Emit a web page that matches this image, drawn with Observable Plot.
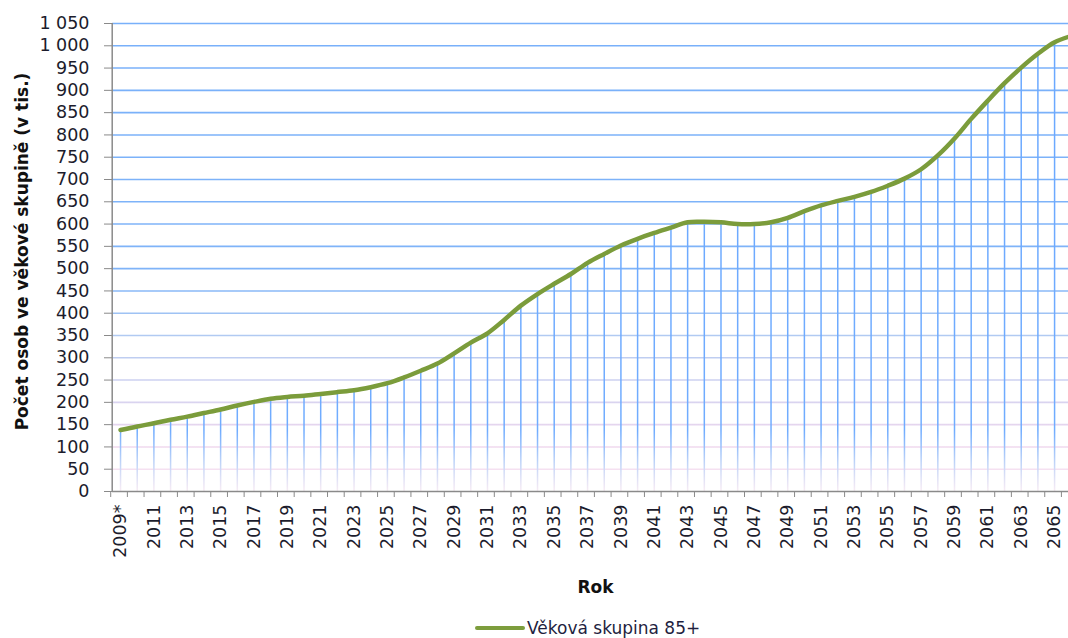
<!DOCTYPE html>
<html>
<head>
<meta charset="utf-8">
<script src="https://cdn.jsdelivr.net/npm/d3@7"></script>
<script src="https://cdn.jsdelivr.net/npm/@observablehq/plot@0.6"></script>
<style>
  html, body { margin: 0; padding: 0; background: white; overflow: hidden; width: 1068px; height: 638px; }
  #legend { position: relative; height: 38px; font-family: "DejaVu Sans", sans-serif; font-size: 17px; color: #1f1f3f; }
  #legend .sw { position: absolute; left: 475px; top: 26px; width: 50px; height: 4px; background: #7d9d3d; border-radius: 2px; }
  #legend .lb { position: absolute; left: 527px; top: 17px; line-height: 22px; white-space: nowrap; }
</style>
</head>
<body>
<div id="chart"></div>
<div id="legend"><span class="sw"></span><span class="lb">Věková skupina 85+</span></div>
<script>
// ---- data ----
const years = [2009, 2010, 2011, 2012, 2013, 2014, 2015, 2016, 2017, 2018,
  2019, 2020, 2021, 2022, 2023, 2024, 2025, 2026, 2027, 2028,
  2029, 2030, 2031, 2032, 2033, 2034, 2035, 2036, 2037, 2038,
  2039, 2040, 2041, 2042, 2043, 2044, 2045, 2046, 2047, 2048,
  2049, 2050, 2051, 2052, 2053, 2054, 2055, 2056, 2057, 2058,
  2059, 2060, 2061, 2062, 2063, 2064, 2065, 2066];
const values = [138, 146, 153, 161, 168, 176, 184, 193, 201, 208,
  212, 215, 219, 223, 227, 234, 243, 256, 271, 287,
  310, 334, 355, 385, 417, 443, 466, 488, 513, 533,
  552, 567, 580, 592, 604, 605, 604, 600, 600, 604,
  614, 629, 642, 652, 661, 672, 686, 702, 723, 754,
  792, 836, 877, 916, 951, 982, 1008, 1022];
const labelYears = [2009, 2011, 2013, 2015, 2017, 2019, 2021, 2023, 2025, 2027,
  2029, 2031, 2033, 2035, 2037, 2039, 2041, 2043, 2045, 2047,
  2049, 2051, 2053, 2055, 2057, 2059, 2061, 2063, 2065];
const labelText = ["2009*", "2011", "2013", "2015", "2017", "2019", "2021", "2023", "2025", "2027",
  "2029", "2031", "2033", "2035", "2037", "2039", "2041", "2043", "2045", "2047",
  "2049", "2051", "2053", "2055", "2057", "2059", "2061", "2063", "2065"];
const yTicks = [0, 50, 100, 150, 200, 250, 300, 350, 400, 450, 500, 550,
  600, 650, 700, 750, 800, 850, 900, 950, 1000, 1050];
const yTitle = "Počet osob ve věkové skupině (v tis.)";
const xTitle = "Rok";

const data = years.map((year, i) => ({year, value: values[i]}));
const boundaries = years.map(y => y - 0.5);
const labelMap = new Map(labelYears.map((y, i) => [y, labelText[i]]));
const fmtY = d => d >= 1000 ? `${Math.floor(d / 1000)} ${String(d % 1000).padStart(3, "0")}` : String(d);

const green = "#7b9c3b";
const axisGray = "#8a8a8a";
const textColor = "#1c1c2c";

const plot = Plot.plot({
  width: 1068,
  height: 600,
  marginLeft: 112,
  marginRight: 0,
  marginTop: 23,
  marginBottom: 109,
  style: {fontFamily: "DejaVu Sans, sans-serif", fontSize: "17px", color: textColor, background: "white"},
  x: {type: "linear", domain: [2008.5, 2066.5], range: [111.7, 1079.1], axis: null},
  y: {domain: [0, 1050], axis: null},
  marks: [
    Plot.ruleY(yTicks.filter(d => d > 0), {stroke: "url(#gridGrad)", strokeWidth: 1.6}),
    Plot.ruleX(data, {x: "year", y1: 0, y2: "value", stroke: "url(#dropGrad)", strokeWidth: 1.5}),
    Plot.line(data, {x: "year", y: "value", stroke: green, strokeWidth: 4.5, curve: "catmull-rom"}),
    Plot.ruleX([2008.5], {stroke: axisGray, strokeWidth: 1.5}),
    Plot.ruleY([0], {stroke: axisGray, strokeWidth: 1.5}),
    Plot.axisY(yTicks, {tickSize: 8, tickPadding: 15, tickFormat: fmtY, stroke: axisGray, fill: textColor, fontSize: 17.5, label: null}),
    Plot.axisX(boundaries, {tickSize: 6, tickFormat: () => "", stroke: axisGray, label: null, dx: -1.5}),
    Plot.axisX(labelYears, {tickSize: 0, tickPadding: 13, rotate: -90, textAnchor: "end", lineAnchor: "middle",
      tickFormat: d => labelMap.get(d), fill: textColor, fontSize: 17.5, label: null}),
    Plot.text([yTitle], {frameAnchor: "left", textAnchor: "middle", lineAnchor: "middle", dx: -90, dy: -6, rotate: -90,
      fontWeight: "bold", fontSize: 17, fill: "#111"}),
    Plot.text([xTitle], {frameAnchor: "bottom", textAnchor: "middle", lineAnchor: "middle", dx: 5, dy: 96,
      fontWeight: "bold", fontSize: 17, fill: "#111"})
  ]
});

const svg = d3.select(plot);
const defs = svg.insert("defs", ":first-child");
const g1 = defs.append("linearGradient").attr("id", "gridGrad").attr("gradientUnits", "userSpaceOnUse")
  .attr("x1", 0).attr("y1", 23).attr("x2", 0).attr("y2", 491);
[[0, "#78b0fa"], [0.55, "#80b4f8"], [0.65, "#acc9f2"], [0.78, "#d2d2f0"], [0.9, "#efd8ee"], [1, "#fae8f3"]]
  .forEach(([o, c]) => g1.append("stop").attr("offset", o).attr("stop-color", c));
const g2 = defs.append("linearGradient").attr("id", "dropGrad").attr("gradientUnits", "userSpaceOnUse")
  .attr("x1", 0).attr("y1", 23).attr("x2", 0).attr("y2", 491);
[[0, "#6aa8ff"], [0.87, "#70acff"], [0.94, "#c0d4f8"], [1, "#f8ecf4"]]
  .forEach(([o, c]) => g2.append("stop").attr("offset", o).attr("stop-color", c));

document.getElementById("chart").appendChild(plot);
</script>
</body>
</html>
